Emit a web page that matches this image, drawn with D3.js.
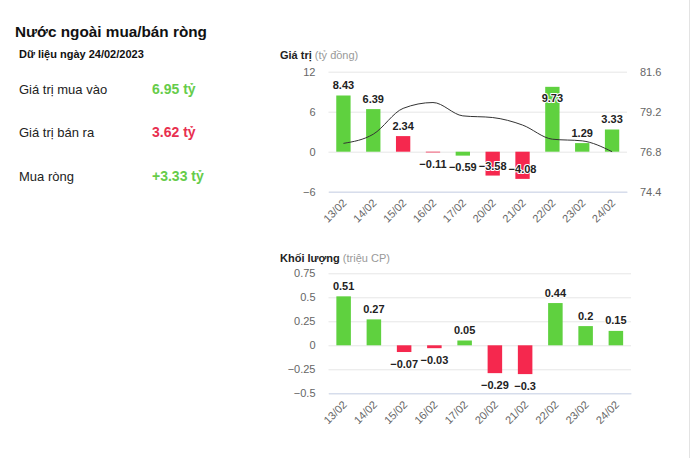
<!DOCTYPE html>
<html>
<head>
<meta charset="utf-8">
<script src="https://cdn.jsdelivr.net/npm/d3@7"></script>
<style>
  body { margin: 0; background: #fff; font-family: "Liberation Sans", Arial, sans-serif; }
  svg { display: block; }
</style>
</head>
<body>
<div id="chart"></div>
<script>
let dates = ["13/02", "14/02", "15/02", "16/02", "17/02", "20/02", "21/02", "22/02", "23/02", "24/02"];
let netValue = [8.43, 6.39, 2.34, -0.11, -0.59, -3.58, -4.08, 9.73, 1.29, 3.33];
let netVolume = [0.51, 0.27, -0.07, -0.03, 0.05, -0.29, -0.3, 0.44, 0.2, 0.15];
let price = [77.3, 77.85, 79.4, 79.75, 78.95, 78.85, 78.4, 77.55, 77.45, 76.8];
let valueTicks = [-6, 0, 6, 12];
let priceTicks = [74.4, 76.8, 79.2, 81.6];
let volumeTicks = [-0.5, -0.25, 0, 0.25, 0.5, 0.75];

let width = 692;
let height = 458;
let green = "#5fd13f";
let red = "#f5284e";
let gridColor = "#e6e6e6";
let axisColor = "#ccd6eb";
let labelColor = "#666666";

const svg = d3.select("#chart").append("svg")
    .attr("width", width)
    .attr("height", height)
    .style("font-family", '"Liberation Sans", Arial, sans-serif');

// right border
svg.append("line")
    .attr("x1", 689.5).attr("x2", 689.5)
    .attr("y1", 0).attr("y2", height)
    .attr("stroke", "#e3e3e3");

// left summary panel
svg.append("text").attr("x", 15).attr("y", 37)
    .attr("font-size", 15.3).attr("font-weight", "bold").attr("fill", "#111")
    .text("Nước ngoài mua/bán ròng");
svg.append("text").attr("x", 19).attr("y", 58)
    .attr("font-size", 11).attr("font-weight", "bold").attr("fill", "#111")
    .text("Dữ liệu ngày 24/02/2023");

let summary = [
    { label: "Giá trị mua vào", value: "6.95 tỷ", color: "#66cc4a", y: 94 },
    { label: "Giá trị bán ra", value: "3.62 tỷ", color: "#e8304f", y: 136.5 },
    { label: "Mua ròng", value: "+3.33 tỷ", color: "#66cc4a", y: 180.5 }
];
summary.forEach(d => {
    svg.append("text").attr("x", 19).attr("y", d.y)
        .attr("font-size", 13).attr("fill", "#222").text(d.label);
    svg.append("text").attr("x", 152).attr("y", d.y)
        .attr("font-size", 14).attr("font-weight", "bold").attr("fill", d.color).text(d.value);
});

function fmt(v) {
    return v < 0 ? "\u2212" + Math.abs(v) : String(v);
}

function drawPanel(opts) {
    let x = d3.scaleBand()
        .domain(dates)
        .range([opts.left, opts.right])
        .paddingInner(0.52)
        .paddingOuter(0.26);
    let y = d3.scaleLinear()
        .domain(opts.domain)
        .range([opts.bottom, opts.top]);

    // title
    let title = svg.append("text").attr("x", 280).attr("y", opts.titleY).attr("font-size", 11);
    title.append("tspan").attr("font-weight", "bold").attr("fill", "#222").text(opts.title);
    title.append("tspan").attr("fill", "#999").text(" " + opts.unit);

    // grid
    svg.append("g")
        .attr("transform", `translate(${opts.left},0)`)
        .call(d3.axisLeft(y).tickValues(opts.ticks).tickSize(-(opts.right - opts.left)).tickFormat(""))
        .call(g => g.select(".domain").remove())
        .call(g => g.selectAll("line").attr("stroke", gridColor));

    // left labels
    svg.append("g")
        .attr("transform", `translate(${opts.left - 13},0)`)
        .call(d3.axisLeft(y).tickValues(opts.ticks).tickSize(0).tickFormat(opts.tickFormat))
        .call(g => g.select(".domain").remove())
        .call(g => g.selectAll("text")
            .attr("x", 0)
            .attr("font-size", 11)
            .attr("font-family", '"Liberation Sans", Arial, sans-serif')
            .attr("fill", labelColor));

    // x axis
    svg.append("g")
        .attr("transform", `translate(0,${opts.bottom})`)
        .call(d3.axisBottom(x).tickSize(0))
        .call(g => g.select(".domain").attr("stroke", axisColor))
        .call(g => g.selectAll("text")
            .attr("font-size", 11)
            .attr("font-family", '"Liberation Sans", Arial, sans-serif')
            .attr("fill", labelColor)
            .attr("text-anchor", "end")
            .attr("dy", 0)
            .attr("y", 0)
            .attr("transform", "translate(4,12) rotate(-45)"));

    // bars
    svg.append("g").selectAll("rect")
        .data(opts.values)
        .join("rect")
        .attr("x", (d, i) => x(dates[i]))
        .attr("width", x.bandwidth())
        .attr("y", d => y(Math.max(0, d)))
        .attr("height", d => Math.abs(y(d) - y(0)))
        .attr("fill", (d, i) => netVolume[i] >= 0 ? green : red);

    if (opts.after) opts.after(x);

    // data labels
    svg.append("g").selectAll("text")
        .data(opts.values)
        .join("text")
        .attr("x", (d, i) => x(dates[i]) + x.bandwidth() / 2)
        .attr("y", d => {
            if (d >= 0) {
                let b = y(d) - 6.5;
                return b - 13 < opts.top ? y(d) + 15.5 : b;
            }
            let b = y(d) + 15.5;
            return b + 2 > opts.bottom ? y(d) - 6 : b;
        })
        .attr("text-anchor", "middle")
        .attr("font-size", 11)
        .attr("font-weight", "bold")
        .attr("fill", "#222")
        .attr("stroke", "#fff")
        .attr("stroke-width", 2)
        .attr("stroke-linejoin", "round")
        .attr("paint-order", "stroke")
        .text(d => fmt(d));
}

// value panel with price line
drawPanel({
    title: "Giá trị", unit: "(tỷ đồng)", titleY: 59,
    left: 328.5, right: 627, top: 71.7, bottom: 191.7,
    domain: [-6, 12], ticks: valueTicks, values: netValue,
    tickFormat: d => d < 0 ? "\u2212" + Math.abs(d) : d,
    after: x => {
        let yPrice = d3.scaleLinear().domain([74.4, 81.6]).range([191.7, 71.7]);
        svg.append("g")
            .attr("transform", "translate(640,0)")
            .call(d3.axisRight(yPrice).tickValues(priceTicks).tickSize(0).tickFormat(d3.format(".1f")))
            .call(g => g.select(".domain").remove())
            .call(g => g.selectAll("text")
                .attr("x", 0)
                .attr("font-size", 11)
                .attr("font-family", '"Liberation Sans", Arial, sans-serif')
                .attr("fill", labelColor));
        let line = d3.line()
            .x((d, i) => x(dates[i]) + x.bandwidth() / 2)
            .y(d => yPrice(d))
            .curve(d3.curveMonotoneX);
        svg.append("path")
            .datum(price)
            .attr("d", line)
            .attr("fill", "none")
            .attr("stroke", "#333")
            .attr("stroke-width", 1);
    }
});

// volume panel
drawPanel({
    title: "Khối lượng", unit: "(triệu CP)", titleY: 262,
    left: 328.5, right: 631, top: 273.3, bottom: 393.3,
    domain: [-0.5, 0.75], ticks: volumeTicks, values: netVolume,
    tickFormat: d => d < 0 ? "\u2212" + Math.abs(d) : d
});
</script>
</body>
</html>
